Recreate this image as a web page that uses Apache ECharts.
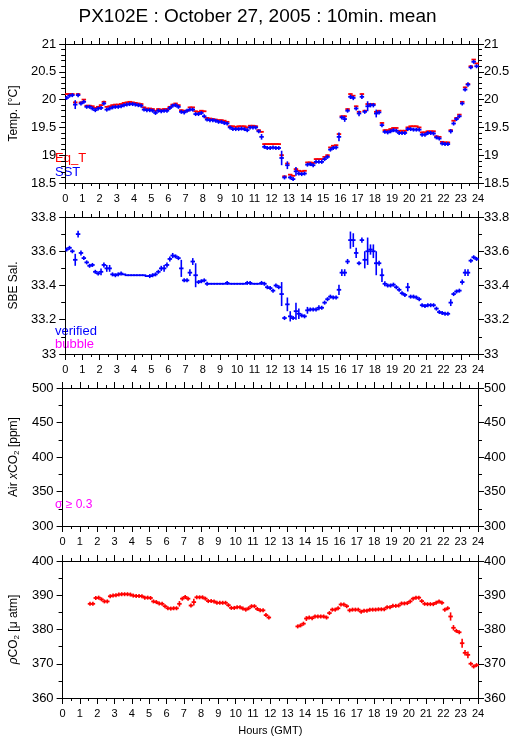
<!DOCTYPE html>
<html>
<head>
<meta charset="utf-8">
<script src="https://cdn.jsdelivr.net/npm/echarts@6/dist/echarts.min.js"></script>
<style>
html,body{margin:0;padding:0;background:#fff;}
#chart{width:515px;height:739px;}
</style>
</head>
<body>
<div id="chart"></div>
<script>
// 10-minute means, 6 values per hour (00:00 .. 23:50 GMT)
const slotMinutes = 10;

const eqT = [
 20.1, 20.1, 20.1, 19.95, 20.1, 19.95,
 20.0, 19.89, 19.89, 19.88, 19.85, 19.87,
 19.9, 19.96, 19.87, 19.88, 19.9, 19.91,
 19.91, 19.92, 19.94, 19.95, 19.96, 19.95,
 19.94, 19.93, 19.92, 19.86, 19.84, 19.84,
 19.83, 19.8, 19.83, 19.82, 19.83, 19.83,
 19.87, 19.91, 19.93, 19.9, 19.81, 19.8,
 19.8, 19.86, 19.86, 19.79, 19.78, 19.8,
 19.79, 19.67, 19.66, 19.65, 19.64, 19.63,
 19.63, 19.62, 19.6, 19.52, 19.52, 19.51,
 19.52, 19.52, 19.52, 19.5, 19.53, 19.53,
 19.52, 19.45, 19.42, 19.2, 19.2, 19.2,
 19.2, 19.2, 19.2, 19.0, 18.62, 18.85,
 18.65, 18.63, 18.75, 18.72, 18.71, 18.72,
 18.87, 18.87, 18.86, 18.93, 18.93, 18.93,
 18.97, 19.0, 19.14, 19.17, 19.18, 19.38,
 19.7, 19.7, 19.83, 20.1, 20.07, 19.88,
 19.78, 20.1, 19.8, 19.92, 19.92, 19.92,
 19.78, 19.8, 19.58, 19.45, 19.45, 19.47,
 19.49, 19.49, 19.44, 19.44, 19.44, 19.5,
 19.52, 19.52, 19.52, 19.5, 19.41, 19.41,
 19.43, 19.43, 19.43, 19.34, 19.33, 19.24,
 19.23, 19.23, 19.45, 19.62, 19.67, 19.73,
 19.96, 20.22, 20.28, 20.6, 20.72, 20.65
];
const eqTErr = [
 0.01, 0.01, 0.01, 0.02, 0.01, 0.01,
 0.01, 0.01, 0.01, 0.01, 0.01, 0.01,
 0.01, 0.02, 0.01, 0.01, 0.01, 0.01,
 0.01, 0.01, 0.01, 0.01, 0.01, 0.01,
 0.01, 0.01, 0.01, 0.01, 0.01, 0.01,
 0.01, 0.01, 0.01, 0.01, 0.01, 0.01,
 0.01, 0.01, 0.01, 0.01, 0.01, 0.01,
 0.01, 0.01, 0.01, 0.01, 0.01, 0.01,
 0.01, 0.01, 0.01, 0.01, 0.01, 0.01,
 0.01, 0.01, 0.01, 0.01, 0.01, 0.01,
 0.01, 0.01, 0.01, 0.01, 0.01, 0.01,
 0.01, 0.01, 0.01, 0.01, 0.01, 0.01,
 0.01, 0.01, 0.01, 0.02, 0.01, 0.01,
 0.01, 0.01, 0.02, 0.01, 0.01, 0.01,
 0.01, 0.01, 0.01, 0.01, 0.01, 0.01,
 0.01, 0.01, 0.01, 0.01, 0.01, 0.02,
 0.01, 0.02, 0.01, 0.01, 0.01, 0.01,
 0.01, 0.01, 0.01, 0.01, 0.01, 0.01,
 0.01, 0.01, 0.01, 0.01, 0.01, 0.01,
 0.01, 0.01, 0.01, 0.01, 0.01, 0.01,
 0.01, 0.01, 0.01, 0.01, 0.01, 0.01,
 0.01, 0.01, 0.01, 0.01, 0.01, 0.01,
 0.01, 0.01, 0.01, 0.01, 0.01, 0.01,
 0.01, 0.01, 0.01, 0.01, 0.01, 0.01
];
const sst = [
 20.03, 20.07, 20.08, 19.91, 20.08, 19.93,
 19.96, 19.87, 19.87, 19.84, 19.81, 19.84,
 19.85, 19.93, 19.82, 19.84, 19.86, 19.87,
 19.87, 19.88, 19.9, 19.91, 19.92, 19.92,
 19.91, 19.9, 19.89, 19.82, 19.81, 19.81,
 19.8, 19.76, 19.8, 19.79, 19.8, 19.8,
 19.85, 19.89, 19.9, 19.87, 19.78, 19.77,
 19.8, 19.82, 19.82, 19.74, 19.74, 19.76,
 19.7, 19.64, 19.63, 19.63, 19.62, 19.6,
 19.6, 19.58, 19.57, 19.5, 19.47, 19.47,
 19.47, 19.48, 19.47, 19.45, 19.5, 19.5,
 19.5, 19.43, 19.33, 19.15, 19.13, 19.13,
 19.14, 19.13, 19.13, 18.95, 18.6, 18.82,
 18.6, 18.57, 18.71, 18.67, 18.66, 18.67,
 18.83, 18.84, 18.82, 18.88, 18.88, 18.88,
 18.93, 18.97, 19.1, 19.13, 19.14, 19.33,
 19.68, 19.65, 19.8, 20.05, 20.03, 19.84,
 19.75, 20.05, 19.78, 19.88, 19.9, 19.9,
 19.75, 19.77, 19.54, 19.42, 19.41, 19.43,
 19.45, 19.44, 19.4, 19.4, 19.4, 19.47,
 19.47, 19.46, 19.46, 19.46, 19.37, 19.37,
 19.4, 19.4, 19.39, 19.32, 19.3, 19.21,
 19.2, 19.2, 19.43, 19.57, 19.65, 19.7,
 19.93, 20.18, 20.27, 20.58, 20.68, 20.6
];
const sstErr = [
 0.03, 0.02, 0.02, 0.08, 0.03, 0.02,
 0.02, 0.02, 0.02, 0.01, 0.02, 0.02,
 0.02, 0.03, 0.03, 0.01, 0.01, 0.01,
 0.01, 0.01, 0.01, 0.01, 0.01, 0.01,
 0.01, 0.01, 0.01, 0.01, 0.01, 0.01,
 0.01, 0.02, 0.01, 0.01, 0.01, 0.01,
 0.01, 0.02, 0.01, 0.01, 0.02, 0.01,
 0.01, 0.02, 0.01, 0.02, 0.01, 0.01,
 0.02, 0.01, 0.01, 0.01, 0.01, 0.01,
 0.01, 0.01, 0.01, 0.01, 0.02, 0.01,
 0.01, 0.01, 0.01, 0.02, 0.01, 0.01,
 0.01, 0.02, 0.05, 0.02, 0.01, 0.01,
 0.01, 0.01, 0.01, 0.13, 0.03, 0.07,
 0.03, 0.03, 0.08, 0.02, 0.02, 0.02,
 0.02, 0.02, 0.02, 0.01, 0.01, 0.01,
 0.01, 0.02, 0.02, 0.02, 0.02, 0.08,
 0.03, 0.05, 0.02, 0.04, 0.04, 0.03,
 0.05, 0.04, 0.03, 0.09, 0.04, 0.04,
 0.07, 0.02, 0.03, 0.02, 0.01, 0.01,
 0.01, 0.01, 0.01, 0.01, 0.02, 0.01,
 0.01, 0.01, 0.01, 0.01, 0.01, 0.01,
 0.01, 0.01, 0.01, 0.02, 0.02, 0.02,
 0.02, 0.01, 0.04, 0.03, 0.02, 0.02,
 0.03, 0.03, 0.04, 0.03, 0.02, 0.02
];
const salinity = [
 33.61, 33.62, 33.6, 33.55, 33.7, 33.59,
 33.56, 33.535, 33.515, 33.52, 33.48, 33.47,
 33.48, 33.52, 33.5, 33.5, 33.465, 33.46,
 33.465, 33.47, 33.465, 33.46, 33.46, 33.46,
 33.46, 33.46, 33.46, 33.46, 33.455, 33.455,
 33.46, 33.465, 33.48, 33.5, 33.5, 33.52,
 33.555, 33.575, 33.57, 33.56, 33.5, 33.43,
 33.43, 33.475, 33.54, 33.46, 33.42, 33.425,
 33.43, 33.41, 33.41, 33.41, 33.41, 33.41,
 33.41, 33.41, 33.415, 33.41, 33.41, 33.41,
 33.41, 33.41, 33.41, 33.415, 33.415, 33.41,
 33.41, 33.41, 33.415, 33.41, 33.39, 33.385,
 33.37, 33.4, 33.39, 33.35, 33.21, 33.29,
 33.22, 33.21, 33.25, 33.235, 33.225, 33.22,
 33.255, 33.26, 33.26, 33.26, 33.27, 33.27,
 33.3, 33.32, 33.335, 33.33, 33.33, 33.375,
 33.475, 33.475, 33.54, 33.665, 33.665, 33.59,
 33.53, 33.665, 33.55, 33.6, 33.61, 33.6,
 33.53, 33.53, 33.46, 33.41, 33.4, 33.4,
 33.405, 33.39, 33.375, 33.355, 33.345, 33.39,
 33.335, 33.335, 33.33, 33.32, 33.285, 33.28,
 33.285, 33.285, 33.285, 33.265, 33.245, 33.24,
 33.235, 33.235, 33.3, 33.35, 33.365, 33.37,
 33.42, 33.475, 33.475, 33.545, 33.565, 33.555
];
const salinityErr = [
 0.01, 0.01, 0.01, 0.035, 0.02, 0.015,
 0.01, 0.01, 0.01, 0.01, 0.01, 0.01,
 0.02, 0.015, 0.02, 0.02, 0.005, 0.005,
 0.005, 0.005, 0, 0, 0, 0,
 0, 0, 0, 0, 0, 0.005,
 0.005, 0.005, 0.01, 0.015, 0.02, 0.015,
 0.015, 0.015, 0.01, 0.005, 0.05, 0.01,
 0.01, 0.02, 0.02, 0.07, 0.01, 0.005,
 0.01, 0.005, 0, 0, 0, 0,
 0, 0, 0.005, 0, 0, 0,
 0, 0, 0, 0.005, 0.005, 0,
 0, 0, 0.005, 0.005, 0.005, 0.005,
 0.005, 0.005, 0.005, 0.07, 0.01, 0.04,
 0.03, 0.01, 0.05, 0.03, 0.01, 0.01,
 0.02, 0.01, 0.01, 0.01, 0.015, 0.01,
 0.01, 0.01, 0.01, 0.005, 0.01, 0.03,
 0.02, 0.02, 0.015, 0.05, 0.04, 0.03,
 0.01, 0.015, 0.05, 0.08, 0.03, 0.04,
 0.07, 0.015, 0.04, 0.015, 0.005, 0.005,
 0.005, 0.005, 0.01, 0.01, 0.01, 0.025,
 0.01, 0.005, 0.005, 0.01, 0.005, 0.005,
 0.005, 0.005, 0.005, 0.01, 0.005, 0.005,
 0.005, 0.005, 0.02, 0.01, 0.01, 0.005,
 0.015, 0.02, 0.02, 0.01, 0.01, 0.005
];
const pco2 = [
 null, null, null, null, null, null,
 null, null, null, 387.5, 387.5, 389.2,
 389.3, 388.8, 388.2, 388.2, 389.7, 389.9,
 390.0, 390.2, 390.3, 390.3, 390.3, 390.2,
 389.9, 389.8, 389.8, 389.7, 389.3, 389.3,
 389.2, 388.2, 388.0, 387.6, 387.5, 386.8,
 386.2, 386.1, 386.2, 386.2, 387.5, 389.0,
 389.5, 389.0, 387.0, 388.0, 389.4, 389.4,
 389.4, 389.0, 388.3, 388.3, 388.2, 387.8,
 387.8, 387.8, 387.8, 387.1, 386.3, 386.3,
 386.5, 386.5, 386.1, 385.8, 386.2, 386.8,
 386.8, 386.0, 385.6, 385.6, 384.2, 383.5,
 null, null, null, null, null, null,
 null, null, null, 380.9, 381.2, 381.7,
 383.2, 383.5, 383.3, 383.8, 383.8, 383.8,
 383.8, 383.5, 384.8, 385.8, 385.8, 386.2,
 387.3, 387.3, 386.8, 385.6, 385.8, 385.8,
 385.8, 385.2, 385.5, 385.5, 385.8, 385.8,
 385.8, 385.9, 385.9, 385.9, 386.5, 386.5,
 386.9, 386.9, 387.0, 387.6, 387.6, 387.7,
 388.2, 389.0, 389.3, 389.3, 388.3, 387.5,
 387.4, 387.4, 387.4, 387.8, 388.2, 387.8,
 385.8, 386.2, 383.8, 380.5, 379.6, 379.2,
 376.0, 373.2, 372.6, 370.0, 369.2, 369.6
];
const pco2Err = [
 0, 0, 0, 0, 0, 0,
 0, 0, 0, 0.6, 0.6, 0.5,
 0.4, 0.4, 0.5, 0.5, 0.5, 0.5,
 0.4, 0.3, 0.2, 0.2, 0.2, 0.2,
 0.2, 0.2, 0.2, 0.2, 0.2, 0.2,
 0.2, 0.2, 0.2, 0.2, 0.2, 0.2,
 0.2, 0.2, 0.2, 0.2, 0.8, 0.5,
 0.4, 0.5, 0.6, 1.0, 0.2, 0.2,
 0.2, 0.4, 0.3, 0.2, 0.2, 0.2,
 0.2, 0.2, 0.2, 0.3, 0.2, 0.2,
 0.2, 0.2, 0.2, 0.3, 0.3, 0.2,
 0.3, 0.3, 0.3, 0.3, 0.4, 0.2,
 0, 0, 0, 0, 0, 0,
 0, 0, 0, 0.2, 0.2, 0.3,
 0.7, 0.5, 0.4, 0.3, 0.2, 0.2,
 0.2, 0.2, 0.5, 0.3, 0.2, 0.4,
 0.3, 0.3, 0.3, 0.6, 0.3, 0.3,
 0.3, 0.3, 0.3, 0.3, 0.2, 0.2,
 0.2, 0.2, 0.2, 0.2, 0.2, 0.2,
 0.2, 0.2, 0.2, 0.2, 0.2, 0.5,
 0.3, 0.3, 0.2, 0.2, 0.4, 0.3,
 0.2, 0.2, 0.2, 0.3, 0.3, 0.6,
 0.4, 0.3, 1.2, 0.8, 0.3, 0.3,
 1.3, 0.8, 1.0, 0.4, 0.3, 0.3
];

// axis ranges / ticks
const hourTicks = {min: 0, max: 24, interval: 1};
const tempAxis = {min: 18.5, max: 21, interval: 0.5, minor: 5};
const salAxis = {min: 33, max: 33.8, interval: 0.2, minor: 2};
const airAxis = {min: 300, max: 500, interval: 50, minor: 2};
const pco2Axis = {min: 360, max: 400, interval: 10, minor: 2};

const FONT = '"Liberation Sans", Arial, Helvetica, sans-serif';
const BLUE = '#0000ff', RED = '#ff0000', MAGENTA = '#ff00ff';

function toData(vals, errs) {
  const out = [];
  const step = slotMinutes / 60;
  vals.forEach((v, i) => {
    if (v === null) return;
    out.push([(i + 0.5) * step, v, errs[i]]);
  });
  return out;
}

function renderer(color, minHalf) {
  const half = slotMinutes / 120;
  return function (params, api) {
    const t = api.value(0), v = api.value(1), e = api.value(2);
    const a = api.coord([t - half, v]);
    const b = api.coord([t + half, v]);
    const c = api.coord([t, v]);
    const children = [{
      type: 'line',
      shape: {x1: a[0] - 0.8, y1: c[1], x2: b[0] + 0.8, y2: c[1]},
      style: {stroke: color, lineWidth: 1.8}
    }];
    if (e > 0) {
      const top = api.coord([t, v + e]);
      const bot = api.coord([t, v - e]);
      let y1 = top[1], y2 = bot[1];
      if (c[1] - y1 < minHalf) { y1 = c[1] - minHalf; y2 = c[1] + minHalf; }
      if (y2 - y1 >= 1) {
        children.push({
          type: 'line',
          shape: {x1: c[0], y1: y1, x2: c[0], y2: y2},
          style: {stroke: color, lineWidth: 1.6}
        });
      }
    }
    return {type: 'group', children: children};
  };
}

const grids = [
  {left: 52, right: 37, top: 44, height: 139},
  {left: 52, right: 37, top: 217, height: 137},
  {left: 52, right: 37, top: 388, height: 138},
  {left: 52, right: 37, top: 561, height: 137}
];

const black = {color: '#000', width: 1};

function xAxes(gi, last) {
  const base = {
    type: 'value', gridIndex: gi, min: hourTicks.min, max: hourTicks.max, interval: hourTicks.interval,
    axisLine: {show: true, onZero: false, lineStyle: black},
    axisTick: {show: true, length: 6, lineStyle: black},
    minorTick: {show: true, splitNumber: 2, length: 3, lineStyle: black},
    splitLine: {show: false}, minorSplitLine: {show: false}
  };
  const bottom = Object.assign({}, base, {
    position: 'bottom',
    axisLabel: {show: true, color: '#000', fontSize: 11, margin: 10, fontFamily: FONT}
  });
  if (last) {
    Object.assign(bottom, {
      name: 'Hours (GMT)', nameLocation: 'middle', nameGap: 27,
      nameTextStyle: {color: '#000', fontSize: 11, fontFamily: FONT}
    });
  }
  const top = Object.assign({}, base, {position: 'top', axisLabel: {show: false}});
  return [bottom, top];
}

function yAxes(gi, ax, name, nameRich) {
  const base = {
    type: 'value', gridIndex: gi, min: ax.min, max: ax.max, interval: ax.interval,
    axisLine: {show: true, onZero: false, lineStyle: black},
    axisTick: {show: true, length: 6, lineStyle: black},
    minorTick: {show: true, splitNumber: ax.minor, length: 4, lineStyle: black},
    splitLine: {show: false}, minorSplitLine: {show: false}
  };
  const left = Object.assign({}, base, {
    position: 'left',
    axisLabel: {color: '#000', fontSize: 13, margin: 9, fontFamily: FONT},
    name: name, nameLocation: 'middle', nameRotate: 90, nameGap: 36,
    nameTextStyle: {color: '#000', fontSize: 12, fontFamily: FONT, rich: nameRich}
  });
  const right = Object.assign({}, base, {
    position: 'right',
    axisLabel: {color: '#000', fontSize: 13, margin: 6, fontFamily: FONT}
  });
  return [left, right];
}

const subRich = {
  a: {fontSize: 12, fontFamily: FONT, color: '#000'},
  i: {fontSize: 12, fontFamily: FONT, color: '#000', fontStyle: 'italic'},
  s: {fontSize: 8, fontFamily: FONT, color: '#000', padding: [6, 0, 0, 0]}
};

const xAxis = [].concat(xAxes(0), xAxes(1), xAxes(2), xAxes(3, true));
const yAxis = [].concat(
  yAxes(0, tempAxis, 'Temp. [°C]'),
  yAxes(1, salAxis, 'SBE Sal.'),
  yAxes(2, airAxis, '{a|Air }{i|x}{a|CO}{s|2}{a| [ppm]}', subRich),
  yAxes(3, pco2Axis, '{i|ρ}{a|CO}{s|2}{a| [μ atm]}', subRich)
);

function customSeries(name, xi, yi, vals, errs, color, minHalf) {
  return {
    type: 'custom', name: name, xAxisIndex: xi, yAxisIndex: yi,
    renderItem: renderer(color, minHalf), data: toData(vals, errs),
    encode: {x: 0, y: 1}, clip: true, silent: true
  };
}

function label(text, x, y, color, size) {
  return {type: 'text', left: x, top: y, style: {text: text, fill: color, font: (size || 12) + 'px ' + FONT}};
}

const option = {
  animation: false,
  backgroundColor: '#fff',
  title: {
    text: 'PX102E : October 27, 2005 : 10min. mean', left: 'center', top: 2,
    textStyle: {color: '#000', fontSize: 19, fontWeight: 'normal', fontFamily: FONT}
  },
  grid: grids,
  xAxis: xAxis,
  yAxis: yAxis,
  series: [
    customSeries('Eq_T', 0, 0, eqT, eqTErr, RED, 0),
    customSeries('SST', 0, 0, sst, sstErr, BLUE, 2),
    customSeries('verified', 2, 2, salinity, salinityErr, BLUE, 2),
    customSeries('pCO2', 6, 6, pco2, pco2Err, RED, 2)
  ],
  graphic: [
    label('Eq_T', 55, 152, RED, 13),
    label('SST', 55, 166, BLUE, 13),
    label('verified', 55, 325, BLUE, 13),
    label('bubble', 55, 338, MAGENTA, 13),
    label('σ ≥ 0.3', 55, 499, MAGENTA, 12)
  ]
};

const chart = echarts.init(document.getElementById('chart'), null, {renderer: 'canvas'});
chart.setOption(option);
</script>
</body>
</html>
